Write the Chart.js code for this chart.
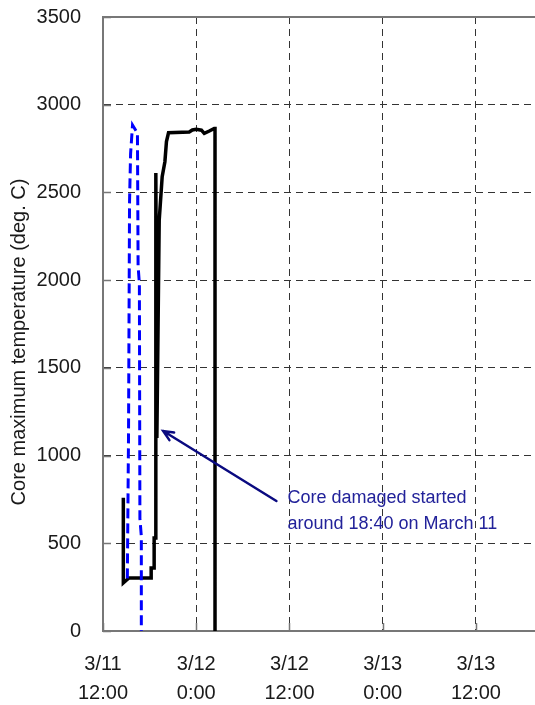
<!DOCTYPE html>
<html>
<head>
<meta charset="utf-8">
<script src="https://cdn.jsdelivr.net/npm/chart.js@4/dist/chart.umd.min.js"></script>
<style>
  html, body { margin: 0; padding: 0; background: #ffffff; overflow: hidden; }
  canvas { display: block; }
</style>
</head>
<body>
<canvas id="chart" width="535" height="705"></canvas>
<script>
// Core maximum temperature, Unit 1 (time as "month/day hh:mm")
const blackTimes = [
  '3/11 14:37', '3/11 14:37', '3/11 14:58', '3/11 15:21', '3/11 18:12', '3/11 18:12',
  '3/11 18:35', '3/11 18:35', '3/11 18:48', '3/11 18:48', '3/11 18:56', '3/11 19:14',
  '3/11 19:37', '3/11 19:58', '3/11 20:10', '3/11 20:26', '3/11 23:06', '3/11 23:30',
  '3/12 0:00', '3/12 0:40', '3/12 1:02', '3/12 1:41', '3/12 2:19', '3/12 2:25', '3/12 2:25'
];
const blackTemps = [
  760, 274, 288, 302, 302, 359,
  359, 530, 530, 2611, 1100, 2340,
  2590, 2675, 2790, 2840, 2845, 2856,
  2860, 2855, 2837, 2850, 2865, 2865, 0
];

const blueTimes = [
  '3/11 15:08', '3/11 15:17', '3/11 15:25', '3/11 15:33', '3/11 15:48', '3/11 16:26',
  '3/11 16:31', '3/11 16:41', '3/11 16:45', '3/11 16:56', '3/11 16:56'
];
const blueTemps = [300, 1100, 2450, 2720, 2884, 2838, 2080, 1980, 640, 540, 0];

const xTickLabels = [['3/11', '12:00'], ['3/12', '0:00'], ['3/12', '12:00'], ['3/13', '0:00'], ['3/13', '12:00']];
const yTicks = [0, 500, 1000, 1500, 2000, 2500, 3000, 3500];

const xStart = '3/11 12:00';
const xEnd = '3/13 19:36';

const yTitle = 'Core maximum temperature (deg. C)';
const noteLines = ['Core damaged started', 'around 18:40 on March 11'];
const noteTip = { t: '3/11 19:45', v: 1140 };
const noteTail = { t: '3/12 10:19', v: 741 };

// hours elapsed since 3/11 12:00
function hours(s) {
  const [md, hm] = s.split(' ');
  const day = parseInt(md.split('/')[1], 10);
  const [h, m] = hm.split(':').map(Number);
  return (day - 11) * 24 + h + m / 60 - 12;
}

const toPoints = (ts, vs) => ts.map((t, i) => ({ x: hours(t), y: vs[i] }));

const FONT = "'Liberation Sans', Arial, sans-serif";
const AXIS_GRAY = '#777777';

const frame = {
  id: 'frame',
  afterDraw(chart) {
    const { ctx, chartArea: a, scales: { x, y } } = chart;
    ctx.save();
    // inward tick marks
    ctx.strokeStyle = AXIS_GRAY;
    ctx.lineWidth = 1.5;
    ctx.beginPath();
    yTicks.forEach(v => {
      const py = Math.round(y.getPixelForValue(v)) + 0.5;
      ctx.moveTo(a.left, py);
      ctx.lineTo(a.left + 8, py);
    });
    x.ticks.forEach(tk => {
      const px = Math.round(x.getPixelForValue(tk.value)) + 0.5;
      ctx.moveTo(px, a.bottom);
      ctx.lineTo(px, a.bottom - 8);
    });
    ctx.stroke();
    // top frame line
    ctx.lineWidth = 2;
    ctx.beginPath();
    ctx.moveTo(a.left, a.top);
    ctx.lineTo(a.right, a.top);
    ctx.stroke();

    // vertical axis title
    ctx.fillStyle = '#1a1a1a';
    ctx.font = '20px ' + FONT;
    ctx.textAlign = 'center';
    ctx.textBaseline = 'middle';
    ctx.translate(19, 342);
    ctx.rotate(-Math.PI / 2);
    ctx.fillText(yTitle, 0, 0);
    ctx.restore();

    // annotation arrow
    const tx = x.getPixelForValue(hours(noteTip.t));
    const ty = y.getPixelForValue(noteTip.v);
    const sx = x.getPixelForValue(hours(noteTail.t));
    const sy = y.getPixelForValue(noteTail.v);
    ctx.save();
    ctx.strokeStyle = '#0a0a80';
    ctx.lineWidth = 2.5;
    ctx.lineCap = 'round';
    ctx.beginPath();
    ctx.moveTo(sx, sy);
    ctx.lineTo(tx, ty);
    const ang = Math.atan2(sy - ty, sx - tx);
    const hl = 11, hw = 0.42;
    ctx.moveTo(tx + hl * Math.cos(ang + hw), ty + hl * Math.sin(ang + hw));
    ctx.lineTo(tx, ty);
    ctx.lineTo(tx + hl * Math.cos(ang - hw), ty + hl * Math.sin(ang - hw));
    ctx.stroke();

    ctx.fillStyle = '#22229a';
    ctx.font = '18px ' + FONT;
    ctx.textAlign = 'left';
    ctx.textBaseline = 'middle';
    ctx.fillText(noteLines[0], sx + 11, sy - 3);
    ctx.fillText(noteLines[1], sx + 11, sy + 23);
    ctx.restore();
  }
};

new Chart(document.getElementById('chart'), {
  type: 'scatter',
  data: {
    datasets: [
      {
        data: toPoints(blueTimes, blueTemps),
        showLine: true,
        borderColor: '#0000ff',
        borderWidth: 3,
        borderDash: [10, 5],
        pointRadius: 0,
        tension: 0
      },
      {
        data: toPoints(blackTimes, blackTemps),
        showLine: true,
        borderColor: '#000000',
        borderWidth: 3.5,
        pointRadius: 0,
        tension: 0
      }
    ]
  },
  options: {
    responsive: false,
    animation: false,
    devicePixelRatio: 1,
    layout: { padding: { top: 17, right: 0, left: 0, bottom: 0 } },
    plugins: { legend: { display: false }, tooltip: { enabled: false } },
    scales: {
      x: {
        type: 'linear',
        min: hours(xStart),
        max: hours(xEnd),
        afterFit: s => { s.height = 74; s.paddingLeft = 0; s.paddingRight = 0; },
        ticks: {
          stepSize: 12,
          includeBounds: false,
          autoSkip: false,
          maxRotation: 0,
          padding: 19,
          color: '#1a1a1a',
          font: { family: FONT, size: 20, lineHeight: 1.45 },
          callback: (v, i) => xTickLabels[i] || ''
        },
        grid: {
          drawTicks: false,
          color: ctx => (ctx.tick && ctx.tick.value === 0 ? 'rgba(0,0,0,0)' : '#333333'),
          lineWidth: 1
        },
        border: { display: true, color: AXIS_GRAY, width: 2, dash: [7, 5] }
      },
      y: {
        min: 0,
        max: 3500,
        afterFit: s => { s.width = 103; s.paddingTop = 0; s.paddingBottom = 0; },
        afterBuildTicks: s => { s.ticks = yTicks.map(v => ({ value: v })); },
        ticks: {
          padding: 22,
          color: '#1a1a1a',
          font: { family: FONT, size: 20 },
          callback: v => String(v)
        },
        grid: {
          drawTicks: false,
          color: ctx => (ctx.tick && (ctx.tick.value === 0 || ctx.tick.value === 3500) ? 'rgba(0,0,0,0)' : '#333333'),
          lineWidth: 1
        },
        border: { display: true, color: AXIS_GRAY, width: 2, dash: [7, 5] }
      }
    }
  },
  plugins: [frame]
});
</script>
</body>
</html>
